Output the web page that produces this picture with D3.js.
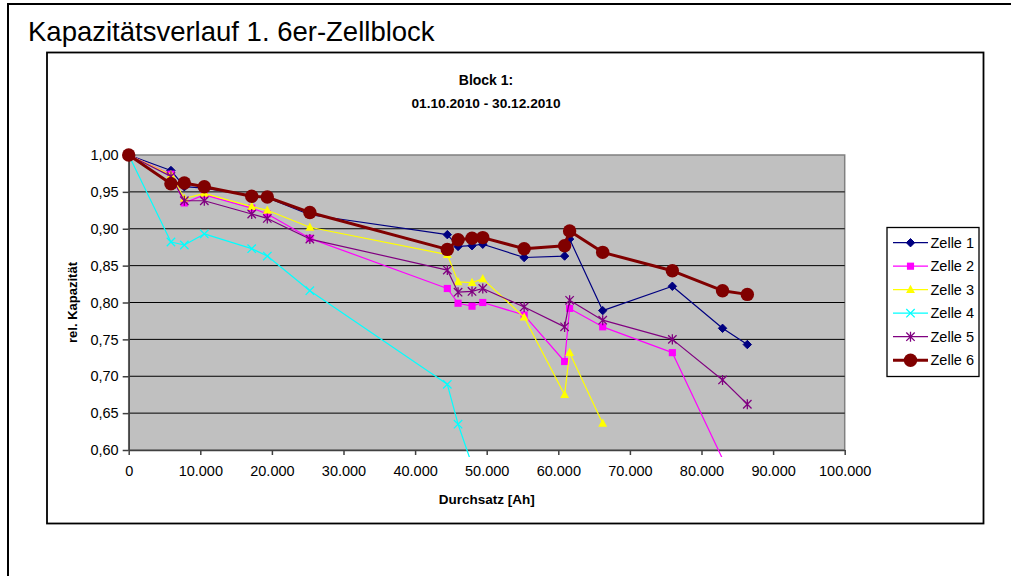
<!DOCTYPE html>
<html lang="de">
<head>
    <meta charset="UTF-8">
    <title>Kapazitätsverlauf 1. 6er-Zellblock</title>
    <script src="https://cdn.jsdelivr.net/npm/d3@7"></script>
    <style>
        body {
            margin: 0;
            background-color: white;
        }

        svg {
            display: block;
            font-family: "Liberation Sans", Arial, sans-serif;
        }

        .axis path,
        .axis line {
            stroke: #404040;
            stroke-width: 1.5;
        }

        .axis text {
            font-size: 14.5px;
            fill: #000;
        }
    </style>
</head>
<body>
    <script>
        // Durchsatz [Ah] der Messpunkte
        const durchsatz = [0, 5900, 7770, 10560, 17180, 19360, 25300, 44500, 46000, 47950, 49450, 55230, 60880, 61580, 66200, 75930, 82940, 86400];

        const zelle1 = [1.000, 0.979, 0.957, 0.955, 0.945, 0.942, 0.919, 0.892, 0.876, 0.877, 0.879, 0.861, 0.863, 0.886, 0.789, 0.822, 0.765, 0.743];
        const zelle2 = [1.000, 0.974, 0.935, 0.946, 0.928, 0.920, 0.887, 0.819, 0.799, 0.795, 0.800, 0.783, 0.720, 0.792, 0.767, 0.732, 0.588, null];
        const zelle3 = [1.000, 0.973, 0.941, 0.948, 0.930, 0.925, 0.902, 0.865, 0.828, 0.827, 0.832, 0.780, 0.675, 0.732, 0.636, null, null, null];
        const zelle4 = [1.000, 0.882, 0.878, 0.893, 0.873, 0.863, 0.816, 0.689, 0.635, 0.580, null, null, null, null, null, null, null, null];
        const zelle5 = [1.000, 0.971, 0.938, 0.938, 0.920, 0.914, 0.886, 0.844, 0.814, 0.815, 0.819, 0.794, 0.767, 0.803, 0.776, 0.750, 0.695, 0.662];
        const zelle6 = [1.000, 0.961, 0.962, 0.957, 0.944, 0.943, 0.922, 0.872, 0.885, 0.887, 0.888, 0.873, 0.877, 0.897, 0.868, 0.843, 0.816, 0.811];

        const seriesNames = ['Zelle 1', 'Zelle 2', 'Zelle 3', 'Zelle 4', 'Zelle 5', 'Zelle 6'];
        const yTicks = [0.60, 0.65, 0.70, 0.75, 0.80, 0.85, 0.90, 0.95, 1.00];
        const xTicks = [0, 10000, 20000, 30000, 40000, 50000, 60000, 70000, 80000, 90000, 100000];

        const styles = [
            { color: '#000080', marker: 'diamond', width: 1.2 },
            { color: '#ff00ff', marker: 'square', width: 1.2 },
            { color: '#ffff00', marker: 'triangle', width: 1.2 },
            { color: '#00ffff', marker: 'cross', width: 1.2 },
            { color: '#800080', marker: 'star', width: 1.2 },
            { color: '#800000', marker: 'circle', width: 3 }
        ];

        const series = [zelle1, zelle2, zelle3, zelle4, zelle5, zelle6].map((vals, i) => ({
            name: seriesNames[i],
            style: styles[i],
            points: durchsatz.map((x, j) => ({ x: x, y: vals[j] })).filter(p => p.y !== null)
        }));

        const de = d3.formatLocale({ decimal: ',', thousands: '.', grouping: [3], currency: ['', ' €'] });

        const w = 1011, h = 576;
        const plot = { left: 128.7, right: 844.7, top: 155, bottom: 450 };

        const svg = d3.select('body').append('svg')
            .attr('width', w)
            .attr('height', h);

        svg.append('rect').attr('width', w).attr('height', h).attr('fill', 'white');

        // outer frame (open to the right and bottom)
        svg.append('path')
            .attr('d', `M8,${h + 5} L8,4 L${w + 5},4`)
            .attr('fill', 'none')
            .attr('stroke', '#000')
            .attr('stroke-width', 2);

        svg.append('text')
            .attr('x', 28)
            .attr('y', 41)
            .attr('font-size', 27.5)
            .text('Kapazitätsverlauf 1. 6er-Zellblock');

        // chart frame
        svg.append('rect')
            .attr('x', 47)
            .attr('y', 52.5)
            .attr('width', 936.5)
            .attr('height', 471)
            .attr('fill', 'white')
            .attr('stroke', '#000')
            .attr('stroke-width', 1.8);

        const xScale = d3.scaleLinear().domain([0, 100000]).range([plot.left, plot.right]);
        const yScale = d3.scaleLinear().domain([0.6, 1.0]).range([plot.bottom, plot.top]);

        // plot area
        svg.append('rect')
            .attr('x', plot.left)
            .attr('y', plot.top)
            .attr('width', plot.right - plot.left)
            .attr('height', plot.bottom - plot.top)
            .attr('fill', '#c0c0c0')
            .attr('stroke', '#808080')
            .attr('stroke-width', 1.5);

        svg.append('g')
            .selectAll('line')
            .data(yTicks.slice(1, -1))
            .enter()
            .append('line')
            .attr('x1', plot.left)
            .attr('x2', plot.right)
            .attr('y1', d => yScale(d))
            .attr('y2', d => yScale(d))
            .attr('stroke', '#000')
            .attr('stroke-width', 1);

        const yAxis = d3.axisLeft(yScale)
            .tickValues(yTicks)
            .tickFormat(de.format('.2f'))
            .tickSizeInner(6)
            .tickSizeOuter(0)
            .tickPadding(4);
        svg.append('g')
            .attr('class', 'axis')
            .attr('transform', `translate(${plot.left}, 0)`)
            .call(yAxis);

        const xAxis = d3.axisBottom(xScale)
            .tickValues(xTicks)
            .tickFormat(de.format(',d'))
            .tickSizeInner(5)
            .tickSizeOuter(0)
            .tickPadding(11);
        svg.append('g')
            .attr('class', 'axis')
            .attr('transform', `translate(0, ${plot.bottom})`)
            .call(xAxis);

        // chart title
        svg.append('text')
            .attr('x', 486)
            .attr('y', 85)
            .attr('text-anchor', 'middle')
            .attr('font-size', 14)
            .attr('font-weight', 'bold')
            .text('Block 1:');
        svg.append('text')
            .attr('x', 486)
            .attr('y', 108)
            .attr('text-anchor', 'middle')
            .attr('font-size', 13.7)
            .attr('font-weight', 'bold')
            .text('01.10.2010 - 30.12.2010');

        svg.append('text')
            .attr('transform', `translate(77, ${(plot.top + plot.bottom) / 2}) rotate(-90)`)
            .attr('text-anchor', 'middle')
            .attr('font-size', 13)
            .attr('font-weight', 'bold')
            .text('rel. Kapazität');

        svg.append('text')
            .attr('x', (plot.left + plot.right) / 2)
            .attr('y', 504)
            .attr('text-anchor', 'middle')
            .attr('font-size', 13.5)
            .attr('font-weight', 'bold')
            .text('Durchsatz [Ah]');

        // clipping
        const defs = svg.append('defs');
        defs.append('clipPath').attr('id', 'clipLines')
            .append('rect')
            .attr('x', plot.left).attr('y', plot.top - 10)
            .attr('width', plot.right - plot.left).attr('height', plot.bottom - plot.top + 17);

        function drawMarker(g, type, color, size) {
            const s = size;
            if (type === 'diamond') {
                g.append('path').attr('d', `M0,${-s} L${s},0 L0,${s} L${-s},0 Z`).attr('fill', color).attr('stroke', color);
            } else if (type === 'square') {
                g.append('rect').attr('x', -s * 0.85).attr('y', -s * 0.85).attr('width', s * 1.7).attr('height', s * 1.7).attr('fill', color);
            } else if (type === 'triangle') {
                g.append('path').attr('d', `M0,${-s * 1.15} L${s * 1.05},${s * 0.8} L${-s * 1.05},${s * 0.8} Z`).attr('fill', color);
            } else if (type === 'cross') {
                g.append('path').attr('d', `M${-s},${-s} L${s},${s} M${-s},${s} L${s},${-s}`).attr('stroke', color).attr('stroke-width', 1.3);
            } else if (type === 'star') {
                g.append('path').attr('d', `M${-s},${-s} L${s},${s} M${-s},${s} L${s},${-s} M0,${-s * 1.2} L0,${s * 1.2}`).attr('stroke', color).attr('stroke-width', 1.3);
            } else if (type === 'circle') {
                g.append('circle').attr('r', s * 1.6).attr('fill', color);
            }
        }

        const line = d3.line().x(d => xScale(d.x)).y(d => yScale(d.y));

        const sg = svg.append('g');
        series.forEach(s => {
            const g = sg.append('g');
            g.append('path')
                .datum(s.points)
                .attr('d', line)
                .attr('fill', 'none')
                .attr('stroke', s.style.color)
                .attr('stroke-width', s.style.width)
                .attr('stroke-linejoin', 'round')
                .attr('clip-path', 'url(#clipLines)');
            g.selectAll('g.m')
                .data(s.points.filter(p => p.y >= 0.6))
                .enter()
                .append('g')
                .attr('class', 'm')
                .attr('transform', d => `translate(${xScale(d.x)}, ${yScale(d.y)})`)
                .each(function () { drawMarker(d3.select(this), s.style.marker, s.style.color, 4.2); });
        });

        // legend
        const lg = svg.append('g');
        lg.append('rect')
            .attr('x', 887).attr('y', 227.5)
            .attr('width', 92).attr('height', 149)
            .attr('fill', 'white')
            .attr('stroke', '#000')
            .attr('stroke-width', 1.3);
        series.forEach((s, i) => {
            const y = 242.7 + i * 23.5;
            const g = lg.append('g');
            g.append('line')
                .attr('x1', 893).attr('x2', 928)
                .attr('y1', y).attr('y2', y)
                .attr('stroke', s.style.color)
                .attr('stroke-width', s.style.width);
            const m = g.append('g').attr('transform', `translate(910.5, ${y})`);
            drawMarker(m, s.style.marker, s.style.color, 4.2);
            g.append('text')
                .attr('x', 930.5)
                .attr('y', y + 5)
                .attr('font-size', 14.5)
                .text(s.name);
        });
    </script>
</body>
</html>
